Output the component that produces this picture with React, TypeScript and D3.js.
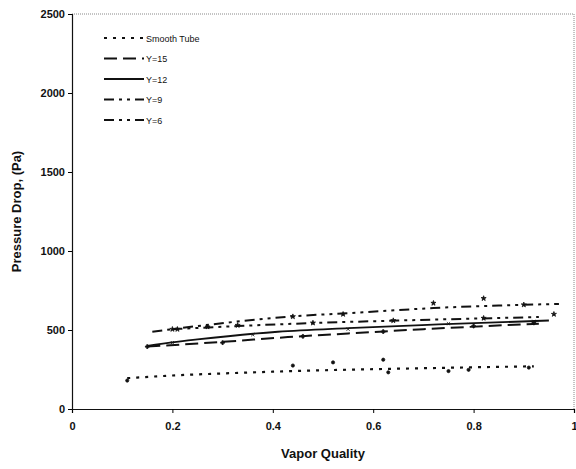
import { useEffect, useRef } from "react";
import * as d3 from "d3";

const W = 576;
const H = 469;
const M = { left: 72, right: 2, top: 14, bottom: 60 };

// trend lines
const smoothX = [0.11, 0.2, 0.3, 0.4, 0.5, 0.6, 0.7, 0.8, 0.92];
const smoothY = [195, 212, 225, 236, 245, 252, 258, 264, 270];
const y15X = [0.15, 0.3, 0.43, 0.55, 0.7, 0.93];
const y15Y = [395, 425, 455, 478, 505, 540];
const y12X = [0.15, 0.25, 0.41, 0.55, 0.73, 0.95];
const y12Y = [400, 440, 489, 512, 535, 560];
const y9X = [0.2, 0.33, 0.48, 0.65, 0.8, 0.93];
const y9Y = [505, 525, 544, 560, 572, 582];
const y6X = [0.16, 0.25, 0.43, 0.58, 0.72, 0.85, 0.97];
const y6Y = [489, 525, 584, 612, 639, 655, 665];

// measured points (markers)
const smoothPtsX = [0.11, 0.44, 0.52, 0.62, 0.63, 0.75, 0.79, 0.91];
const smoothPtsY = [180, 275, 295, 312, 232, 240, 248, 262];
const y15PtsX = [0.15, 0.3, 0.46, 0.62, 0.8, 0.92];
const y15PtsY = [395, 420, 460, 490, 525, 545];
const y12PtsX = [0.2, 0.36, 0.55, 0.75, 0.92];
const y12PtsY = [420, 470, 505, 540, 555];
const y9PtsX = [0.21, 0.33, 0.48, 0.64, 0.82, 0.96];
const y9PtsY = [505, 530, 545, 560, 575, 600];
const y6PtsX = [0.2, 0.27, 0.44, 0.54, 0.72, 0.82, 0.9];
const y6PtsY = [505, 520, 585, 600, 670, 700, 660];

const legendLabels = ["Smooth Tube", "Y=15", "Y=12", "Y=9", "Y=6"];
const xTicks = [0, 0.2, 0.4, 0.6, 0.8, 1];
const yTicks = [0, 500, 1000, 1500, 2000, 2500];

const dashes = ["3 6", "13 6", "", "10 5 3 5 3 5", "10 5 3 5 3 5"];
const widths = [2.2, 2, 1.8, 2, 2];
const symbols = [d3.symbolCircle, d3.symbolCross, d3.symbolTimes, d3.symbolStar, d3.symbolStar];

const FONT = "Arial, Liberation Sans, sans-serif";

export default function App() {
  const ref = useRef<SVGSVGElement | null>(null);

  useEffect(() => {
    const svg = d3.select(ref.current);
    svg.selectAll("*").remove();

    const x = d3.scaleLinear().domain([0, 1]).range([M.left, W - M.right]);
    const y = d3.scaleLinear().domain([0, 2500]).range([H - M.bottom, M.top]);

    const series = [
      [smoothX, smoothY, smoothPtsX, smoothPtsY],
      [y15X, y15Y, y15PtsX, y15PtsY],
      [y12X, y12Y, y12PtsX, y12PtsY],
      [y9X, y9Y, y9PtsX, y9PtsY],
      [y6X, y6Y, y6PtsX, y6PtsY],
    ];

    // frame: dotted top / right
    svg.append("path")
      .attr("d", `M${x(0)},${y(2500)}H${x(1)}V${y(0)}`)
      .attr("fill", "none")
      .attr("stroke", "#888")
      .attr("stroke-width", 1)
      .attr("stroke-dasharray", "1 1");

    const line = d3.line<[number, number]>()
      .x((d) => x(d[0]))
      .y((d) => y(d[1]))
      .curve(d3.curveMonotoneX);

    series.forEach(([lx, ly, px, py], i) => {
      const pts = lx.map((v, k) => [v, ly[k]] as [number, number]);
      svg.append("path")
        .attr("d", line(pts) ?? "")
        .attr("fill", "none")
        .attr("stroke", "#111")
        .attr("stroke-width", widths[i])
        .attr("stroke-dasharray", dashes[i]);
      const sym = d3.symbol().type(symbols[i]).size(8);
      px.forEach((v, k) => {
        svg.append("path")
          .attr("d", sym() ?? "")
          .attr("transform", `translate(${x(v)},${y(py[k])})`)
          .attr("fill", "#111")
          .attr("stroke", "#111")
          .attr("stroke-width", 0.8);
      });
    });

    // axes
    const ax = svg.append("g").attr("transform", `translate(0,${y(0)})`)
      .call(d3.axisBottom(x).tickValues(xTicks).tickSize(4).tickFormat((d) => String(d)));
    ax.select(".domain").attr("stroke", "#111").attr("stroke-width", 1.2);
    ax.selectAll("text")
      .attr("font-family", FONT)
      .attr("font-size", 11).attr("font-weight", "bold").attr("fill", "#111")
      .attr("dy", "1.3em");
    ax.selectAll<SVGTextElement, number>("text")
      .filter((d) => d === 1)
      .attr("text-anchor", "end").attr("x", 3);

    const ay = svg.append("g").attr("transform", `translate(${x(0)},0)`)
      .call(d3.axisLeft(y).tickValues(yTicks).tickSize(4).tickFormat((d) => String(d)));
    ay.select(".domain").attr("stroke", "#111").attr("stroke-width", 1.2);
    ay.selectAll("text")
      .attr("font-family", FONT)
      .attr("font-size", 11).attr("font-weight", "bold").attr("fill", "#111")
      .attr("x", -7);

    svg.append("text")
      .attr("x", (x(0) + x(1)) / 2).attr("y", 458)
      .attr("text-anchor", "middle")
      .attr("font-family", FONT)
      .attr("font-size", 13).attr("font-weight", "bold").attr("fill", "#111")
      .text("Vapor Quality");

    svg.append("text")
      .attr("transform", `translate(21,${(y(0) + y(2500)) / 2}) rotate(-90)`)
      .attr("text-anchor", "middle")
      .attr("font-family", FONT)
      .attr("font-size", 13).attr("font-weight", "bold").attr("fill", "#111")
      .text("Pressure Drop, (Pa)");

    // legend
    legendLabels.forEach((lab, i) => {
      const ly = 38 + i * 20.5;
      svg.append("line")
        .attr("x1", 104).attr("x2", 144).attr("y1", ly).attr("y2", ly)
        .attr("stroke", "#111").attr("stroke-width", widths[i])
        .attr("stroke-dasharray", dashes[i]);
      svg.append("text")
        .attr("x", 146).attr("y", ly + 3.5)
        .attr("font-family", FONT)
        .attr("font-size", 9).attr("fill", "#111")
        .text(lab);
    });
  }, []);

  return <svg ref={ref} width={W} height={H} style={{ position: "absolute", left: 0, top: 0 }} />;
}
